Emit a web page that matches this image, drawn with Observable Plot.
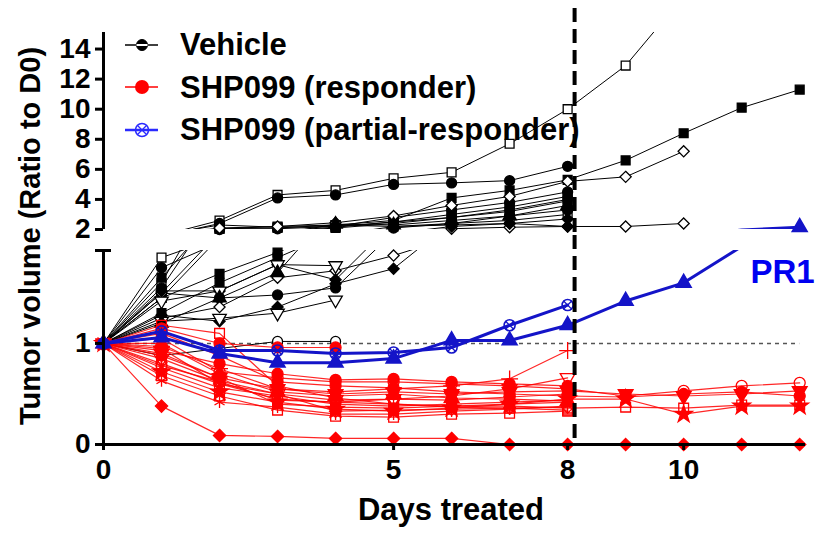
<!DOCTYPE html>
<html><head><meta charset="utf-8">
<script src="https://cdn.jsdelivr.net/npm/d3@7"></script>
<script src="https://cdn.jsdelivr.net/npm/@observablehq/plot@0.6"></script>
<style>
body{margin:0;background:#fff;}
#chart{position:relative;width:822px;height:533px;overflow:hidden;background:#fff}
#chart svg{position:absolute;left:0}
</style></head><body><div id="chart"></div><script>
// ---------------- data ----------------
const days = [0,1,2,3,4,5,6,7,8,9,10,11,12];
const xTicks = [0,5,8,10];
const upperTicks = [2,4,6,8,10,12,14];
const lowerTicks = [0,1];
const upperRange = [2, 15.1];
const lowerRange = [0, 1.92];
const treatmentEnd = [8.12];
const baseline = [1];

const vehicleMice = [
 [1,1.6,2.6,4.3,4.6,5.4,5.8,7.7,10.0,12.9,17.5],
 [1,1.55,2.4,4.1,4.3,5.0,5.1,5.25,6.2],
 [1,1.45,2.05,2.1,2.3,2.6,4.1,4.6,5.3,6.6,8.4,10.1,11.3],
 [1,1.5,2.1,2.2,2.45,2.9,3.6,4.2,5.2,5.5,7.2],
 [1,1.25,1.36,1.65,1.72,1.87,2.05,2.15,2.2,2.2,2.4],
 [1,1.28,1.22,1.36,1.59,1.74,2.2,2.4,2.7],
 [1,0.88,0.95,1.02,1.02],
 [1,1.42,1.52,1.78,1.77],
 [1,1.22,1.25,1.3,1.43],
 [1,1.5,1.45,1.48,1.55,2.1,2.4,2.9,3.3],
 [1,1.45,1.69,1.9,2.15,2.5,3.0,3.5,4.2],
 [1,1.3,1.6,1.85,2.1,2.4,2.8,3.2,3.9],
 [1,1.75,2.0,2.05,2.2,2.8,3.3,3.8,4.5],
 [1,1.2,1.45,1.7,2.35,2.3,2.6,2.9,3.6],
 [1,1.85,2.05,2.2,2.3,2.2,2.4,2.6,3.0],
 [1,1.52,1.52,1.78,1.63,2.2,2.3,2.4,2.2],
 [1,1.65,2.3,2.15,2.2,2.5,2.8,3.3,4.0]
];
const vehicleSymbols = ["square:open","circle:filled","square:filled","diamond2:open","diamond2:open","diamond2:filled","circle:open","tridown:open","tridown:open","circle:filled","square:filled","square:filled","circle:filled","triangle:filled","square:open","diamond2:filled","square:filled"];

const responderMice = [
 [1,0.38,0.09,0.08,0.06,0.06,0.06,0,0,0,0,0,0],
 [1,1.15,1.0,0.96,0.96],
 [1,0.97,0.75,0.55,0.52,0.55,0.58,0.65,0.93],
 [1,1.05,0.72,0.66,0.62,0.62,0.6,0.58,0.55,0.48,0.53,0.58,0.61],
 [1,0.8,0.6,0.45,0.42,0.4,0.38,0.38,0.36,0.37,0.36,0.39,0.39],
 [1,0.72,0.52,0.42,0.35,0.33,0.36,0.4,0.45,0.45,0.3,0.38,0.38],
 [1,0.9,0.66,0.55,0.5,0.52,0.5,0.52,0.53,0.5,0.48,0.5,0.53],
 [1,1.1,0.88,0.62,0.58,0.56,0.52,0.5,0.48,0.47,0.5,0.52,0.48],
 [1,1.18,1.1,0.58,0.46,0.4,0.37,0.36,0.34],
 [1,0.63,0.42,0.37,0.3,0.3,0.33,0.35,0.38],
 [1,0.93,0.8,0.7,0.64,0.65,0.62,0.6,0.58],
 [1,0.68,0.48,0.34,0.28,0.27,0.3,0.31,0.33],
 [1,0.85,0.63,0.5,0.44,0.45,0.48,0.55,0.66],
 [1,0.76,0.56,0.48,0.4,0.38,0.4,0.42,0.44],
 [1,1.0,0.7,0.52,0.48,0.5,0.46,0.45,0.43],
 [1,0.88,0.66,0.4,0.37,0.36,0.38,0.4,0.42],
 [1,0.95,0.6,0.5,0.33,0.34,0.35,0.36,0.37],
 [1,0.78,0.62,0.44,0.42,0.45,0.44,0.47,0.5]
];
const responderSymbols = ["diamond2:filled","circle:filled","plus:open","circle:open","square:open","star:filled","tridown:filled","circle:filled","square:open","asterisk:open","circle:filled","square:open","tridown:open","times:open","triangle:filled","square:filled","diamond2:open","circle:open"];

const partialMice = [
 [1,1.06,0.9,0.81,0.81,0.85,1.03,1.03,1.18,1.42,1.6,1.96,2.15],
 [1,1.12,0.93,0.93,0.9,0.91,0.96,1.18,1.38]
];
const partialSymbols = ["triangle:filled","circlex:open"];

const annotationText = ["PR1"];
const annotationDay = [11.15];
const annotationValue = [1.7];

const legendLabels = ["Vehicle","SHP099 (responder)","SHP099 (partial-responder)"];

// ---------------- build ----------------
const color = {veh: "#000000", resp: "#ff0000", part: "#1414c8"};
const lineW = {veh: 1, resp: 1.2, part: 3};
const FONT = '"Liberation Sans", Arial, sans-serif';

function rows(group, series, symbols) {
  const out = [];
  series.forEach((vals, i) => vals.forEach((v, d) => {
    if (v != null) out.push({group, id: group + i, day: days[d], value: v, style: symbols[i]});
  }));
  return out;
}
const groupsData = {
  veh: rows("veh", vehicleMice, vehicleSymbols),
  resp: rows("resp", responderMice, responderSymbols),
  part: rows("part", partialMice, partialSymbols)
};

function seriesMarks(inPanel) {
  const marks = [];
  for (const g of ["veh", "resp", "part"]) {
    const data = groupsData[g];
    marks.push(Plot.line(data, {x: "day", y: "value", z: "id", stroke: color[g], strokeWidth: lineW[g], clip: true, strokeOpacity: g === "resp" ? 0.85 : 1}));
    const pts = data.filter(d => inPanel(d.value));
    for (const [style, ps] of d3.groups(pts, d => d.style)) {
      const [shape, fillMode] = style.split(":");
      let sym = shape, rotate = 0;
      if (shape === "tridown") { sym = "triangle"; rotate = 180; }
      if (shape === "circlex") sym = "circle";
      const r = g === "veh" ? 5 : 5.5;
      const fill = fillMode === "filled" ? color[g] : (g === "veh" ? "white" : "none");
      marks.push(Plot.dot(ps, {x: "day", y: "value", symbol: sym, rotate, r, fill, stroke: color[g], strokeWidth: g === "part" ? 1.6 : 1.3}));
      if (shape === "circlex") marks.push(Plot.dot(ps, {x: "day", y: "value", symbol: "times", r: 4, stroke: color[g], strokeWidth: 1.3}));
    }
  }
  return marks;
}

const axisText = {fontSize: 28, fontWeight: "bold", fontFamily: FONT};
const xDomain = [days[0], 12.1];
const intFmt = d => String(d);

const upper = Plot.plot({
  width: 822, height: 235,
  marginLeft: 103, marginRight: 17, marginTop: 32, marginBottom: 6,
  x: {domain: xDomain, axis: null},
  y: {domain: upperRange},
  style: {fontFamily: FONT, fontWeight: "bold", fontSize: "28px", color: "#000", background: "transparent", overflow: "visible"},
  marks: [
    Plot.axisY({ticks: upperTicks, tickSize: 8, tickPadding: 5, strokeWidth: 3, label: null, tickFormat: intFmt, ...axisText}),
    Plot.ruleX([days[0]], {strokeWidth: 3}),
    ...seriesMarks(v => v >= upperRange[0] && v <= upperRange[1]),
    Plot.ruleX(treatmentEnd, {stroke: "#000", strokeWidth: 4, strokeDasharray: "14,7", insetTop: -24, insetBottom: -6})
  ]
});
upper.style.top = "0px";

const lower = Plot.plot({
  width: 822, height: 298,
  marginLeft: 103, marginRight: 17, marginTop: 15, marginBottom: 89,
  x: {domain: xDomain},
  y: {domain: lowerRange},
  style: {fontFamily: FONT, fontWeight: "bold", fontSize: "28px", color: "#000", background: "transparent", overflow: "visible"},
  marks: [
    Plot.ruleY(baseline, {x1: days[0], x2: days[days.length - 1], stroke: "#555", strokeWidth: 1.5, strokeDasharray: "4,4"}),
    ...seriesMarks(v => v >= lowerRange[0] && v <= lowerRange[1]),
    Plot.axisY({ticks: lowerTicks, tickSize: 8, tickPadding: 5, strokeWidth: 3, label: null, tickFormat: intFmt, ...axisText}),
    Plot.axisY({ticks: [lowerRange[1]], tickSize: 8, tickFormat: () => "", strokeWidth: 3, label: null}),
    Plot.axisY({ticks: [lowerRange[1]], tickSize: -8, tickFormat: () => "", strokeWidth: 3, label: null}),
    Plot.axisX({ticks: xTicks, tickSize: 6, tickPadding: 9, strokeWidth: 3, label: null, tickFormat: intFmt, ...axisText}),
    Plot.ruleX([days[0]], {strokeWidth: 3}),
    Plot.ruleY([lowerRange[0]], {strokeWidth: 3}),
    Plot.ruleX(treatmentEnd, {stroke: "#000", strokeWidth: 4, strokeDasharray: "14,7", insetTop: -15, insetBottom: -2}),
    Plot.text(annotationText, {x: (d, i) => annotationDay[i], y: (d, i) => annotationValue[i], text: d => d, fill: "#0000f0", fontSize: 33, fontWeight: "bold", fontFamily: FONT, textAnchor: "start"})
  ]
});
lower.style.top = "235px";

const chart = document.getElementById("chart");
chart.appendChild(lower);
chart.appendChild(upper);

// ---------------- titles & legend overlay ----------------
const ov = d3.select(chart).append("svg").attr("width", 822).attr("height", 533).style("top", "0px").style("pointer-events", "none")
  .attr("font-family", FONT).attr("font-weight", "bold");
ov.append("text").attr("x", 451).attr("y", 520).attr("text-anchor", "middle").attr("font-size", 31).text("Days treated");
ov.append("text").attr("transform", "translate(40,236) rotate(-90)").attr("text-anchor", "middle").attr("font-size", 29).text("Tumor volume (Ratio to D0)");

const legendColors = [color.veh, color.resp, "#2a2aff"];
const rowY = [45, 87, 130];
const baseY = [55, 98, 140];
legendLabels.forEach((lab, i) => {
  const g = ov.append("g");
  g.append("line").attr("x1", 125).attr("x2", 158).attr("y1", rowY[i]).attr("y2", rowY[i]).attr("stroke", legendColors[i]).attr("stroke-width", i === 2 ? 2.5 : 1.5);
  if (i === 0) {
    g.append("circle").attr("cx", 142).attr("cy", rowY[i]).attr("r", 5.5).attr("fill", "#000").attr("stroke", "#000");
    g.append("path").attr("d", `M136.5,${rowY[i]} h11`).attr("stroke", "#fff").attr("stroke-width", 2);
  } else if (i === 1) {
    g.append("circle").attr("cx", 142).attr("cy", rowY[i]).attr("r", 7).attr("fill", legendColors[i]);
  } else {
    g.append("circle").attr("cx", 142).attr("cy", rowY[i]).attr("r", 6.5).attr("fill", "none").attr("stroke", legendColors[i]).attr("stroke-width", 1.5);
    g.append("path").attr("d", `M138,${rowY[i]-4} l8,8 M146,${rowY[i]-4} l-8,8`).attr("stroke", legendColors[i]).attr("stroke-width", 1.3);
  }
  g.append("text").attr("x", 180).attr("y", baseY[i]).attr("font-size", 31).attr("fill", "#000").text(lab);
});
</script></body></html>
